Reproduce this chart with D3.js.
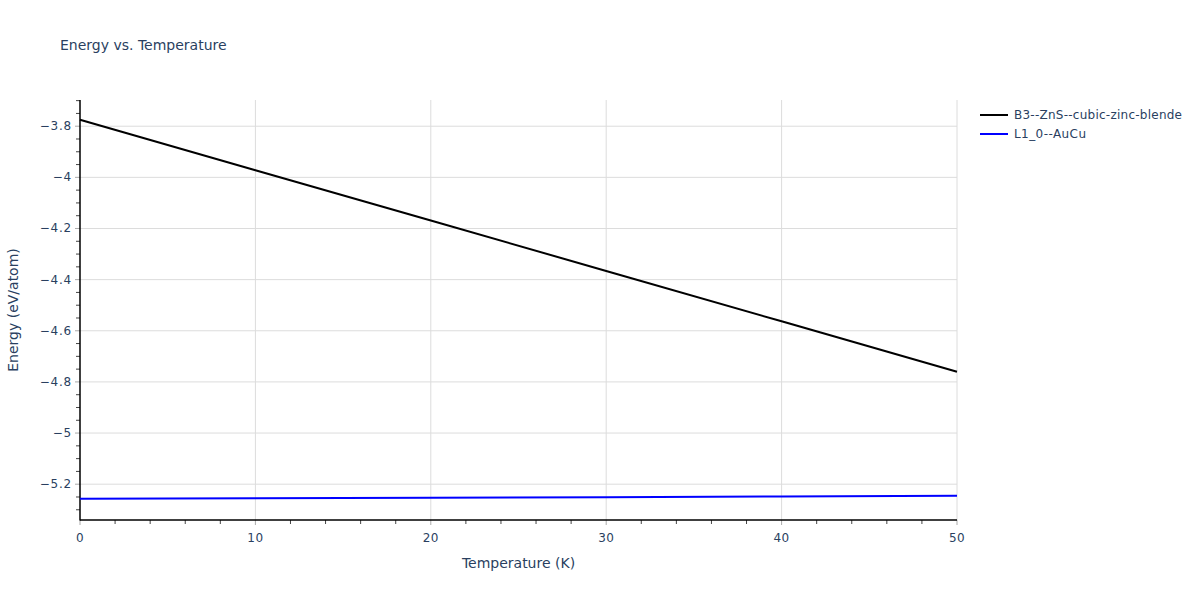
<!DOCTYPE html>
<html><head><meta charset="utf-8">
<script src="https://cdn.jsdelivr.net/npm/d3@7"></script>
<style>body{margin:0;background:#fff;} text{font-family:"DejaVu Sans",sans-serif;}</style>
</head><body>
<svg id="c" width="1200" height="600"></svg>
<script>
const temps = [0, 10, 20, 30, 40, 50];
const seriesNames = ["B3--ZnS--cubic-zinc-blende", "L1_0--AuCu"];
const seriesColors = ["#000000", "#0000ff"];
const b3Energy = [-3.775, -3.972, -4.169, -4.366, -4.563, -4.760];
const l10Energy = [-5.257, -5.255, -5.253, -5.251, -5.248, -5.245];
const xTicks = [0, 10, 20, 30, 40, 50];
const yTicks = [-5.2, -5, -4.8, -4.6, -4.4, -4.2, -4, -3.8];

const svg = d3.select("#c");
const L = 80, R = 957, T = 100, B = 520;
const x = d3.scaleLinear().domain([0, 50]).range([L, R]);
const y = d3.scaleLinear().domain([-5.340, -3.6975]).range([B, T]);
const fc = "#2a3f5f";
const fmt = v => (v < 0 ? "\u2212" : "") + String(Math.abs(+v.toFixed(2)));

// grid
svg.append("g").selectAll("line").data(xTicks.slice(1)).join("line")
  .attr("x1", d => x(d)).attr("x2", d => x(d)).attr("y1", T).attr("y2", B)
  .attr("stroke", "#dcdcdc").attr("stroke-width", 1);
svg.append("g").selectAll("line").data(yTicks).join("line")
  .attr("x1", L).attr("x2", R).attr("y1", d => y(d)).attr("y2", d => y(d))
  .attr("stroke", "#dcdcdc").attr("stroke-width", 1);

// minor ticks
const xMinor = d3.range(0, 50.001, 2).filter(v => v % 10 !== 0);
svg.append("g").selectAll("line").data(xMinor).join("line")
  .attr("x1", d => x(d)).attr("x2", d => x(d)).attr("y1", B).attr("y2", B + 4)
  .attr("stroke", "#444").attr("stroke-width", 1);
const yMinor = d3.range(-5.3, -3.69, 0.05).map(v => +v.toFixed(2))
  .filter(v => !yTicks.some(t => Math.abs(t - v) < 1e-6));
svg.append("g").selectAll("line").data(yMinor).join("line")
  .attr("x1", L - 4).attr("x2", L).attr("y1", d => y(d)).attr("y2", d => y(d))
  .attr("stroke", "#444").attr("stroke-width", 1);
// major ticks
svg.append("g").selectAll("line").data(xTicks).join("line")
  .attr("x1", d => x(d)).attr("x2", d => x(d)).attr("y1", B).attr("y2", B + 5)
  .attr("stroke", "#aaa").attr("stroke-width", 1);
svg.append("g").selectAll("line").data(yTicks).join("line")
  .attr("x1", L - 5).attr("x2", L).attr("y1", d => y(d)).attr("y2", d => y(d))
  .attr("stroke", "#aaa").attr("stroke-width", 1);

// axis lines
svg.append("line").attr("x1", L).attr("x2", L).attr("y1", T).attr("y2", B + 0.5)
  .attr("stroke", "#000").attr("stroke-width", 1.5);
svg.append("line").attr("x1", L).attr("x2", R).attr("y1", B).attr("y2", B)
  .attr("stroke", "#000").attr("stroke-width", 1.5);

// tick labels
svg.append("g").selectAll("text").data(xTicks).join("text")
  .attr("x", d => x(d)).attr("y", B + 22).attr("text-anchor", "middle")
  .attr("font-size", 12).attr("letter-spacing", 0.4).attr("fill", fc).text(d => fmt(d));
svg.append("g").selectAll("text").data(yTicks).join("text")
  .attr("x", L - 8).attr("y", d => y(d) + 4).attr("text-anchor", "end")
  .attr("font-size", 12).attr("letter-spacing", 0.8).attr("fill", fc).text(d => fmt(d));

// lines
const line = d3.line().x((d, i) => x(temps[i])).y(d => y(d));
[b3Energy, l10Energy].forEach((s, i) => {
  svg.append("path").datum(s).attr("d", line).attr("fill", "none")
    .attr("stroke", seriesColors[i]).attr("stroke-width", 2);
});

// titles
svg.append("text").attr("x", 60).attr("y", 50).attr("font-size", 14).attr("fill", fc)
  .text("Energy vs. Temperature");
svg.append("text").attr("x", (L + R) / 2).attr("y", 568).attr("text-anchor", "middle")
  .attr("font-size", 14).attr("fill", fc).text("Temperature (K)");
svg.append("text").attr("transform", `translate(18,${(T + B) / 2}) rotate(-90)`)
  .attr("text-anchor", "middle").attr("font-size", 14).attr("fill", fc).text("Energy (eV/atom)");

// legend
const legendWidths = [168, 72];
seriesNames.forEach((n, i) => {
  const yy = 115 + i * 19;
  svg.append("line").attr("x1", 980).attr("x2", 1008).attr("y1", yy).attr("y2", yy)
    .attr("stroke", seriesColors[i]).attr("stroke-width", 2);
  svg.append("text").attr("x", 1014).attr("y", yy + 4).attr("font-size", 12)
    .attr("textLength", legendWidths[i]).attr("lengthAdjust", "spacing")
    .attr("fill", fc).text(n);
});
</script>
</body></html>
